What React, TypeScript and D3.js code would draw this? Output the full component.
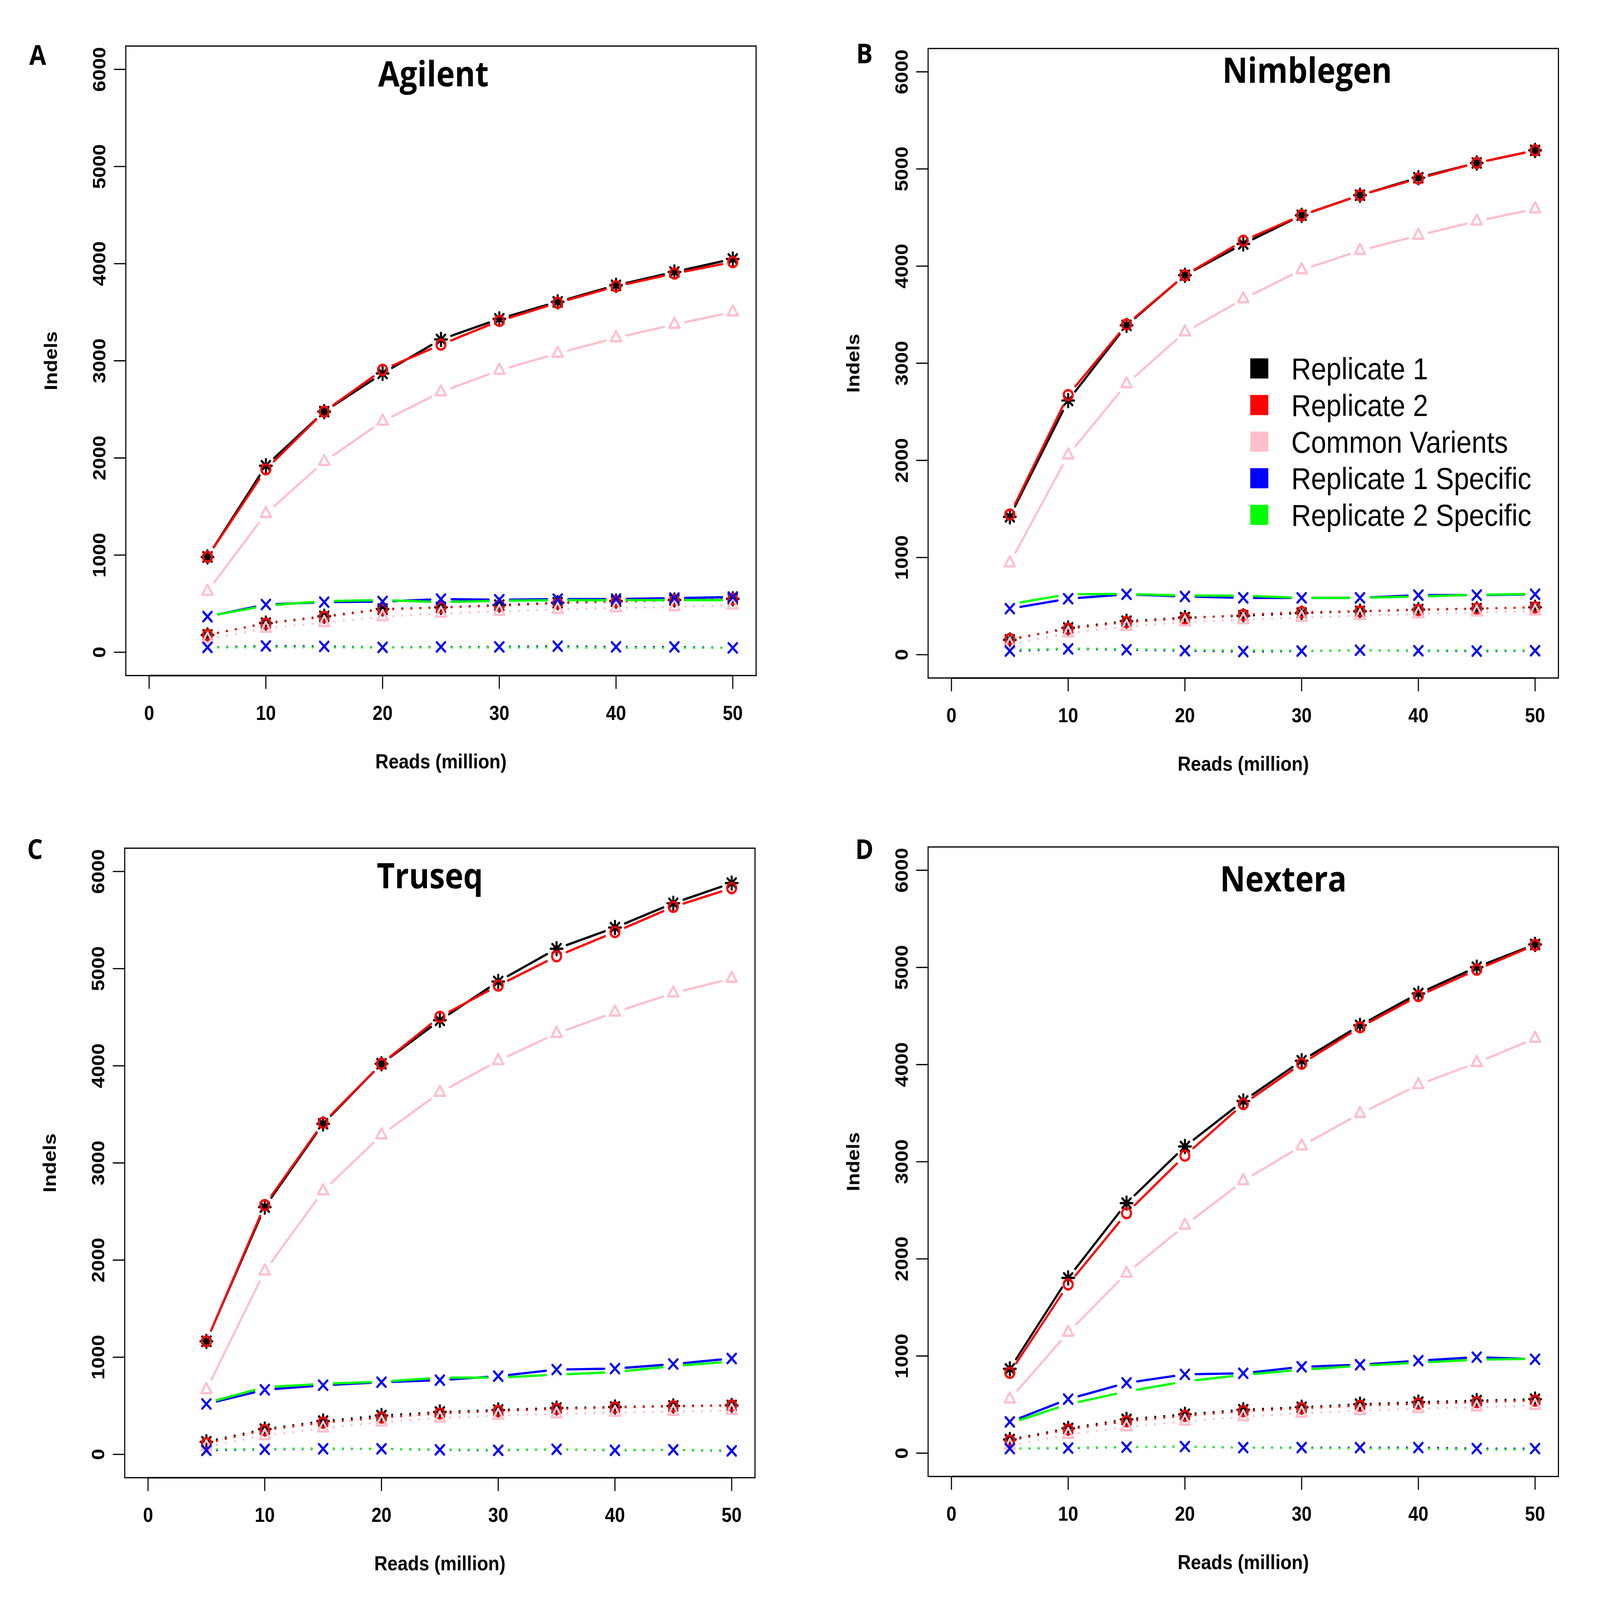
import React from 'react';
import * as d3 from 'd3';

// x values: reads sampled (million)
const reads = [5, 10, 15, 20, 25, 30, 35, 40, 45, 50];
const xTicks = [0, 10, 20, 30, 40, 50];
const yTicks = [0, 1000, 2000, 3000, 4000, 5000, 6000];

const seriesNames = ['Replicate 1', 'Replicate 2', 'Common Varients', 'Replicate 1 Specific', 'Replicate 2 Specific'];
const panelTitles = ['Agilent', 'Nimblegen', 'Truseq', 'Nextera'];
const panelLetters = ['A', 'B', 'C', 'D'];

// each panel: [rep1, rep2, common, rep1 specific, rep2 specific]
const agilentSolid = [
  [981, 1920, 2477, 2870, 3220, 3432, 3607, 3777, 3915, 4048],
  [981, 1883, 2477, 2907, 3167, 3411, 3597, 3767, 3899, 4016],
  [626, 1427, 1963, 2377, 2679, 2902, 3077, 3236, 3374, 3501],
  [367, 491, 516, 522, 547, 540, 547, 547, 557, 568],
  [370, 480, 526, 537, 516, 530, 536, 536, 537, 537],
];
const agilentDotted = [
  [178, 300, 370, 445, 462, 485, 510, 526, 538, 550],
  [180, 295, 365, 440, 460, 480, 505, 522, 535, 548],
  [135, 245, 305, 365, 400, 420, 440, 455, 468, 485],
  [50, 65, 60, 50, 55, 55, 62, 55, 55, 45],
  [48, 52, 50, 48, 48, 48, 50, 45, 45, 45],
];

const nimblegenSolid = [
  [1419, 2616, 3390, 3906, 4228, 4523, 4730, 4910, 5062, 5191],
  [1442, 2672, 3399, 3906, 4261, 4523, 4730, 4901, 5062, 5191],
  [944, 2054, 2787, 3321, 3662, 3961, 4159, 4316, 4463, 4588],
  [474, 576, 622, 599, 585, 585, 585, 613, 613, 622],
  [520, 622, 626, 608, 608, 585, 585, 599, 617, 626],
];
const nimblegenDotted = [
  [152, 276, 345, 382, 400, 428, 447, 465, 474, 488],
  [161, 267, 336, 373, 410, 438, 447, 461, 474, 488],
  [106, 221, 290, 336, 359, 382, 400, 419, 438, 447],
  [37, 60, 51, 41, 32, 37, 46, 41, 37, 41],
  [51, 64, 60, 51, 46, 41, 46, 46, 46, 46],
];

const truseqSolid = [
  [1164, 2545, 3403, 4021, 4468, 4868, 5205, 5423, 5673, 5881],
  [1164, 2566, 3413, 4021, 4504, 4826, 5127, 5377, 5636, 5829],
  [665, 1886, 2712, 3288, 3725, 4052, 4332, 4551, 4748, 4899],
  [519, 665, 712, 743, 764, 805, 873, 883, 930, 987],
  [530, 691, 727, 748, 790, 790, 821, 847, 909, 956],
];
const truseqDotted = [
  [130, 260, 343, 400, 436, 457, 478, 488, 499, 504],
  [114, 249, 327, 379, 421, 447, 468, 483, 494, 504],
  [78, 192, 270, 332, 374, 400, 416, 431, 441, 452],
  [42, 52, 57, 57, 47, 42, 52, 42, 47, 36],
  [52, 57, 62, 57, 52, 47, 52, 47, 47, 42],
];

const nexteraSolid = [
  [868, 1804, 2574, 3157, 3625, 4040, 4404, 4732, 5003, 5237],
  [827, 1737, 2470, 3063, 3594, 4009, 4384, 4706, 4977, 5231],
  [556, 1243, 1851, 2345, 2803, 3162, 3495, 3791, 4020, 4269],
  [322, 556, 723, 811, 822, 889, 910, 952, 988, 967],
  [307, 504, 634, 738, 806, 858, 900, 931, 962, 972],
];
const nexteraDotted = [
  [140, 255, 348, 400, 447, 473, 504, 525, 541, 556],
  [130, 244, 328, 385, 432, 463, 489, 510, 525, 541],
  [78, 192, 270, 328, 374, 411, 437, 458, 473, 489],
  [47, 52, 62, 68, 57, 57, 57, 57, 47, 47],
  [47, 57, 62, 68, 57, 52, 47, 47, 36, 36],
];

const panelSolid = [agilentSolid, nimblegenSolid, truseqSolid, nexteraSolid];
const panelDotted = [agilentDotted, nimblegenDotted, truseqDotted, nexteraDotted];

// styles
const seriesColors = ['#000000', '#FF0000', '#FFC0CB', '#0000FF', '#00FF00'];
const seriesMarks = ['asterisk', 'circle', 'triangle', 'cross', 'none'];

// layout (pixels of the 5851 x 5246 figure)
const W = 5851;
const H = 5246;
const BOX_W = 2305;
const BOX_H = 2064;
const layout = [
  { left: 460, top: 151, titleX: 1585, titleY: 283, letterX: 138, letterY: 212 },
  { left: 3394, top: 159, titleX: 4780, titleY: 271, letterX: 3161, letterY: 208 },
  { left: 456, top: 2781, titleX: 1572, titleY: 2912, letterX: 128, letterY: 2816 },
  { left: 3394, top: 2777, titleX: 4693, titleY: 2923, letterX: 3161, letterY: 2816 },
];

const LW = 7.5;
const GAP = 39;
const axisFont = "'Liberation Sans', Arial, Helvetica, sans-serif";
const titleFont = "'Open Sans', 'Noto Sans', sans-serif";

// type="b" style: segments stop short of each point
function gapped(pts: [number, number][]) {
  const segs: number[][] = [];
  for (let i = 0; i < pts.length - 1; i++) {
    const [x1, y1] = pts[i];
    const [x2, y2] = pts[i + 1];
    const len = Math.hypot(x2 - x1, y2 - y1);
    if (len <= 2 * GAP) continue;
    const ux = (x2 - x1) / len;
    const uy = (y2 - y1) / len;
    segs.push([x1 + ux * GAP, y1 + uy * GAP, x2 - ux * GAP, y2 - uy * GAP]);
  }
  return segs;
}

function Marker({ kind, x, y, color, solid }: { kind: string; x: number; y: number; color: string; solid: boolean }) {
  const common = { stroke: color, strokeWidth: LW, fill: 'none', strokeLinecap: 'round' as const, strokeLinejoin: 'round' as const };
  if (kind === 'asterisk') {
    const a = 15.5;
    const b = 21.5;
    return (
      <g>
        <path d={`M${x - a},${y - a}L${x + a},${y + a}M${x - a},${y + a}L${x + a},${y - a}M${x - b},${y}L${x + b},${y}M${x},${y - b}L${x},${y + b}`} {...common} />
        {solid && <circle cx={x} cy={y} r={10} fill={color} />}
      </g>
    );
  }
  if (kind === 'circle') return <circle cx={x} cy={y} r={16.5} {...common} />;
  if (kind === 'triangle') {
    const r = 22;
    const h = (r * Math.sqrt(3)) / 2;
    return <path d={`M${x},${y - r}L${x + h},${y + r / 2}L${x - h},${y + r / 2}Z`} {...common} />;
  }
  if (kind === 'cross') {
    const a = 15.5;
    return <path d={`M${x - a},${y - a}L${x + a},${y + a}M${x - a},${y + a}L${x + a},${y - a}`} {...common} />;
  }
  return null;
}

function Panel({ idx }: { idx: number }) {
  const L = layout[idx];
  const x = d3.scaleLinear().domain([-2, 52]).range([L.left, L.left + BOX_W]);
  const y = d3.scaleLinear().domain([-240, 6240]).range([L.top + BOX_H, L.top]);
  const bottom = L.top + BOX_H;

  const drawSeries = (vals: number[], s: number, solid: boolean, key: string) => {
    const pts = reads.map((r, i) => [x(r), y(vals[i])] as [number, number]);
    const color = seriesColors[s];
    return (
      <g key={key}>
        {gapped(pts).map((sg, i) => (
          <line
            key={i}
            x1={sg[0]}
            y1={sg[1]}
            x2={sg[2]}
            y2={sg[3]}
            stroke={color}
            strokeWidth={LW}
            strokeLinecap="round"
            strokeDasharray={solid ? undefined : '0.1 33'}
          />
        ))}
        {pts.map((p, i) => (
          <Marker key={i} kind={seriesMarks[s]} x={p[0]} y={p[1]} color={color} solid={solid} />
        ))}
      </g>
    );
  };

  return (
    <g>
      <rect x={L.left} y={L.top} width={BOX_W} height={BOX_H} fill="none" stroke="#000" strokeWidth={4} />
      {/* x axis */}
      <line x1={x(0)} x2={x(50)} y1={bottom} y2={bottom} stroke="#000" strokeWidth={5} />
      {xTicks.map((t) => (
        <g key={t}>
          <line x1={x(t)} x2={x(t)} y1={bottom} y2={bottom + 42} stroke="#000" strokeWidth={4} strokeLinecap="round" />
          <text x={x(t)} y={bottom + 145} textAnchor="middle" fontFamily={axisFont} fontWeight="bold" fontSize={66}>
            {t}
          </text>
        </g>
      ))}
      {/* y axis */}
      {yTicks.map((t) => (
        <g key={t}>
          <line x1={L.left - 42} x2={L.left} y1={y(t)} y2={y(t)} stroke="#000" strokeWidth={4} strokeLinecap="round" />
          <text
            transform={`translate(${L.left - 74},${y(t)}) rotate(-90)`}
            textAnchor="middle"
            fontFamily={axisFont}
            fontWeight="bold"
            fontSize={66}
          >
            {t}
          </text>
        </g>
      ))}
      <text x={L.left + BOX_W / 2} y={bottom + 304} textAnchor="middle" fontFamily={axisFont} fontWeight="bold" fontSize={67}>
        Reads (million)
      </text>
      <text
        transform={`translate(${L.left - 252},${L.top + BOX_H / 2}) rotate(-90)`}
        textAnchor="middle"
        fontFamily={axisFont}
        fontWeight="bold"
        fontSize={67}
      >
        Indels
      </text>
      <text x={L.titleX} y={L.titleY} textAnchor="middle" fontFamily={titleFont} fontWeight="bold" fontSize={114}>
        {panelTitles[idx]}
      </text>
      <text x={L.letterX} y={L.letterY} textAnchor="middle" fontFamily={titleFont} fontWeight="bold" fontSize={90}>
        {panelLetters[idx]}
      </text>
      {seriesNames.map((_, s) => (
        <g key={s}>
          {drawSeries(panelSolid[idx][s], s, true, `s${s}`)}
          {drawSeries(panelDotted[idx][s], s, false, `d${s}`)}
        </g>
      ))}
    </g>
  );
}

function Legend() {
  const sqX = 4605;
  const textX = 4722;
  const rowY = [1208, 1328, 1448, 1568, 1688];
  const size = 66;
  return (
    <g>
      {seriesNames.map((name, i) => (
        <g key={name}>
          <rect x={sqX - size / 2} y={rowY[i] - size / 2} width={size} height={size} fill={seriesColors[i]} />
          <text x={textX} y={rowY[i] + 36} fontFamily={axisFont} fontSize={100} fill="#000">
            {name}
          </text>
        </g>
      ))}
    </g>
  );
}

export default function App() {
  return (
    <svg
      viewBox={`0 0 ${W} ${H}`}
      preserveAspectRatio="none"
      style={{ position: 'fixed', left: 0, top: 0, width: '100vw', height: '100vh', background: '#fff', display: 'block' }}
    >
      <rect width={W} height={H} fill="#fff" />
      {panelTitles.map((_, i) => (
        <Panel key={i} idx={i} />
      ))}
      <Legend />
    </svg>
  );
}
